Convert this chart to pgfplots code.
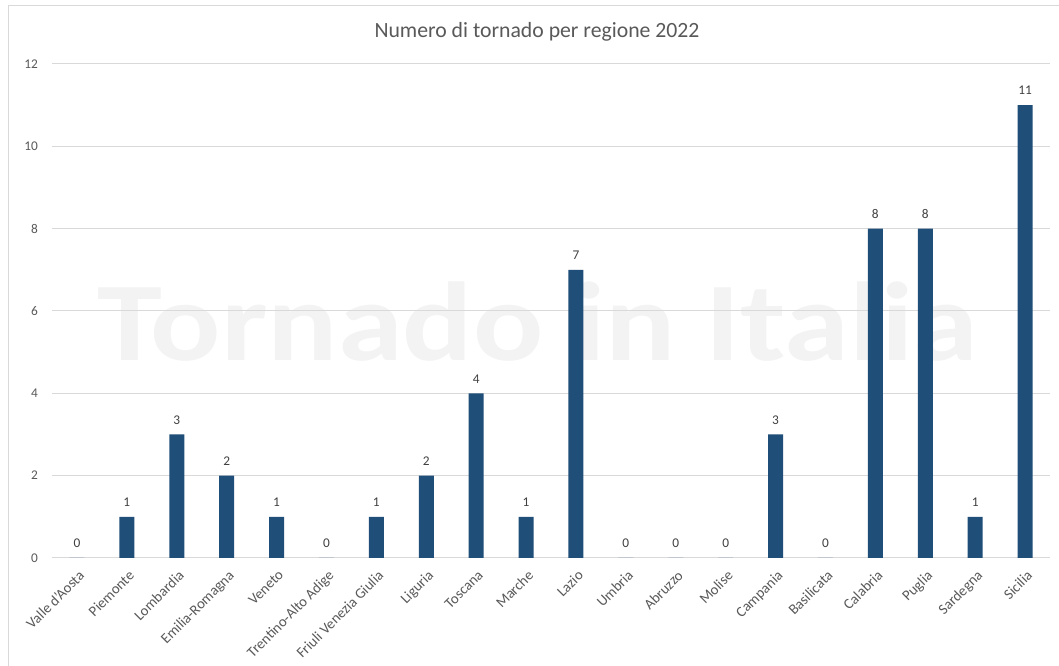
\documentclass[border=0pt]{standalone}
\usepackage{pgfplots}
\pgfplotsset{compat=1.18}
\usepackage{fontspec}
\setmainfont{Carlito}
\usepackage{graphicx}
\definecolor{barc}{HTML}{1F4E79}
\definecolor{tickc}{HTML}{595959}
\definecolor{labc}{HTML}{404040}
\definecolor{gridc}{HTML}{D9D9D9}
\definecolor{wmc}{HTML}{F3F3F3}
\pgfplotstableread{
x y
0 0
1 1
2 3
3 2
4 1
5 0
6 1
7 2
8 4
9 1
10 7
11 0
12 0
13 0
14 3
15 0
16 8
17 8
18 1
19 11
}\datatable
\begin{document}
\begin{tikzpicture}[x=1pt,y=1pt]
\useasboundingbox (0,0) rectangle (794.25,499.5);
\fill[white] (0,0) rectangle (794.25,499.5);
\draw[gridc, line width=0.75pt] (6,0) -- (6,495) -- (794.25,495);
\node[anchor=south west, inner sep=0, text=wmc] at (72.75,228) {\resizebox{660pt}{59pt}{\bfseries Tornado in Italia}};
\node[text=tickc, font=\fontsize{16.3}{19}\selectfont] at (402.75,475.5) {Numero di tornado per regione 2022};
\begin{axis}[
  at={(39pt,81pt)}, anchor=south west,
  scale only axis, width=748.5pt, height=370.5pt,
  xmin=-0.5, xmax=19.5, ymin=0, ymax=12,
  ytick={0,2,...,12},
  xtick={0,...,19},
  xticklabels={Valle d'Aosta,Piemonte,Lombardia,Emilia-Romagna,Veneto,Trentino-Alto Adige,Friuli Venezia Giulia,Liguria,Toscana,Marche,Lazio,Umbria,Abruzzo,Molise,Campania,Basilicata,Calabria,Puglia,Sardegna,Sicilia},
  ymajorgrids, grid style={gridc, line width=0.75pt},
  axis line style={draw=none},
  major tick length=0pt,
  /pgf/number format/assume math mode=true,
  yticklabel style={font=\fontsize{10}{12}\selectfont, text=tickc, xshift=-7pt},
  xticklabel style={font=\fontsize{11}{13}\selectfont, text=tickc, rotate=45, anchor=north east, yshift=-3pt, xshift=-2pt},
  ybar, bar width=11.25pt,
  nodes near coords,
  every node near coord/.append style={font=\fontsize{10}{12}\selectfont, text=labc, yshift=4.2pt},
  clip=false,
]
\addplot[fill=barc, draw=none] table[x=x, y=y] {\datatable};
\end{axis}
\end{tikzpicture}
\end{document}
